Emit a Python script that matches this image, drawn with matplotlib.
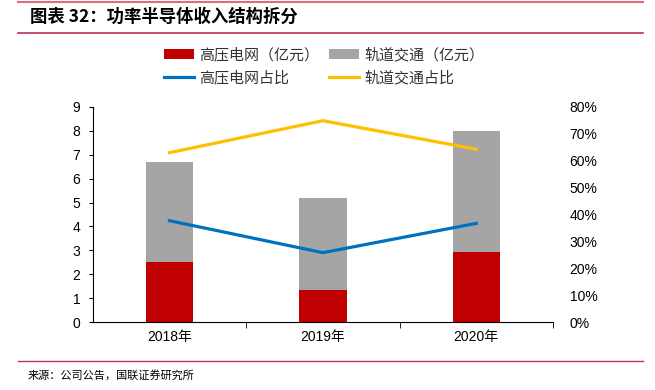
import numpy as np
import matplotlib.pyplot as plt
from matplotlib.lines import Line2D
from matplotlib.ticker import PercentFormatter

plt.rcParams['font.family'] = ['Liberation Sans', 'Noto Sans CJK SC', 'DejaVu Sans']

years = ['2018年', '2019年', '2020年']
grid_rev = [2.5, 1.35, 2.95]      # 高压电网（亿元）
rail_rev = [4.2, 3.85, 5.05]      # 轨道交通（亿元）
grid_share = [0.377, 0.258, 0.367]
rail_share = [0.63, 0.749, 0.643]

fig = plt.figure(figsize=(6.55, 3.9), dpi=100)
ax = fig.add_axes([92.7 / 655, 1 - 322 / 390, (553 - 92.7) / 655, (322 - 107) / 390])
x = np.arange(len(years))

b1 = ax.bar(x, grid_rev, width=0.31, color='#C00000', label='高压电网（亿元）')
b2 = ax.bar(x, rail_rev, width=0.31, bottom=grid_rev, color='#A5A5A5', label='轨道交通（亿元）')
ax.set_xlim(-0.5, 2.5)
ax.set_ylim(0, 9)
ax.set_yticks(range(10))
ax.set_xticks(x)
ax.set_xticklabels(years, fontsize=10)
ax.set_xticks([0.5, 1.5, 2.5], minor=True)
ax.tick_params(axis='x', which='major', length=0, pad=6)
ax.tick_params(axis='x', which='minor', length=4, direction='out')
ax.tick_params(axis='y', length=3, labelsize=10, pad=6)
for s in ['top', 'right']:
    ax.spines[s].set_visible(False)

ax2 = ax.twinx()
l1, = ax2.plot(x, grid_share, color='#0070C0', lw=2.3, label='高压电网占比')
l2, = ax2.plot(x, rail_share, color='#FFC000', lw=2.3, label='轨道交通占比')
ax2.set_ylim(0, 0.8)
ax2.set_yticks(np.arange(0, 0.81, 0.1))
ax2.yaxis.set_major_formatter(PercentFormatter(1.0, decimals=0))
ax2.tick_params(axis='y', length=0, labelsize=10, pad=12)
for s in ax2.spines.values():
    s.set_visible(False)

leg = fig.legend(handles=[b1, l1, b2, l2], ncol=2, loc='center', bbox_to_anchor=(0.495, 1 - 66.5 / 390),
                 frameon=False, prop={'family': ['Noto Sans CJK SC'], 'size': 10.8},
                 handlelength=2.0, handletextpad=0.3, columnspacing=0.7, labelspacing=0.55)
for t in leg.get_texts():
    t.set_color('#333333')

# header / footer rules
fig.add_artist(Line2D([18 / 655, 643 / 655], [1 - 1.5 / 390] * 2, color='#E06A80', lw=1.5))
fig.add_artist(Line2D([18 / 655, 643 / 655], [1 - 33 / 390] * 2, color='#C0304F', lw=1.2))
fig.add_artist(Line2D([18 / 655, 643 / 655], [1 - 361 / 390] * 2, color='#C0304F', lw=1.0))

fig.text(30 / 655, 1 - 17 / 390, '图表 32：功率半导体收入结构拆分', fontsize=12.5, fontweight='bold',
         family=['Noto Sans CJK SC'], va='center', ha='left')
fig.text(28 / 655, 1 - 375 / 390, '来源：公司公告，国联证券研究所', fontsize=8,
         family=['Noto Sans CJK SC'], va='center', ha='left')

fig.savefig('out.png', dpi=100)
